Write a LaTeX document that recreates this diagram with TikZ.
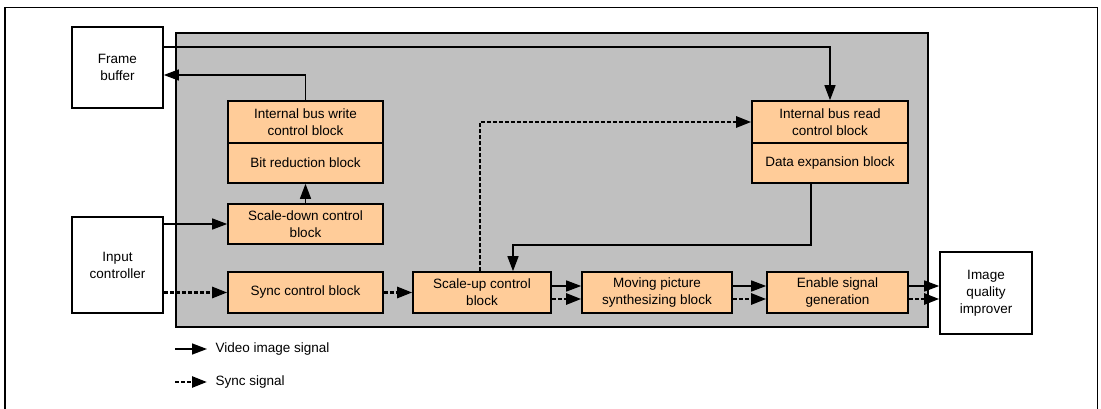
\documentclass[tikz,border=0pt]{standalone}
\usepackage{fontspec}
\setmainfont{Liberation Sans}
\usetikzlibrary{arrows.meta}
\definecolor{peach}{HTML}{FFCC99}
\definecolor{panel}{HTML}{C0C0C0}

\begin{document}
\begin{tikzpicture}[x=1pt,y=-1pt,
  txt/.style={font=\fontsize{13.5}{17}\selectfont},
  blk/.style={txt,draw,line width=1.6pt,fill=peach,align=center,inner sep=1pt},
  ext/.style={blk,fill=white},
  vid/.style={line width=1.4pt,-{Triangle[length=15pt,width=11pt]}},
  syn/.style={vid,line width=2.6pt,dash pattern=on 4pt off 2pt}]
  \useasboundingbox (0,0) rectangle (1101,409);
  \draw[line width=1.6pt] (5,409) -- (5,7.5) -- (1097.5,7.5) -- (1097.5,409);
  \draw[line width=1.6pt,fill=panel] (176,33) rectangle (928,327);

  \node[ext,minimum width=91pt,minimum height=81pt] (frame) at (117.5,67.5) {Frame\\buffer};
  \node[ext,minimum width=91pt,minimum height=96pt] (input) at (117.5,265) {Input\\controller};
  \node[ext,minimum width=92pt,minimum height=82pt] (iqi) at (986,293) {Image\\quality\\improver};

  \node[blk,minimum width=155pt,minimum height=42pt] (wr) at (305.5,122) {Internal bus write\\control block};
  \node[blk,minimum width=155pt,minimum height=40pt] (bitred) at (305.5,163) {Bit reduction block};
  \node[blk,minimum width=155pt,minimum height=40pt] (scdown) at (305.5,224) {Scale-down control\\block};
  \node[blk,minimum width=155pt,minimum height=41pt] (sync) at (305.5,292.5) {Sync control block};
  \node[blk,minimum width=138pt,minimum height=41pt] (scup) at (482,292.5) {Scale-up control\\block};
  \node[blk,minimum width=150pt,minimum height=41pt] (mov) at (657,292.5) {Moving picture\\synthesizing block};
  \node[blk,minimum width=141pt,minimum height=41pt] (ena) at (837.5,292.5) {Enable signal\\generation};
  \node[blk,minimum width=156pt,minimum height=42pt] (rd) at (830,122) {Internal bus read\\control block};
  \node[blk,minimum width=156pt,minimum height=40pt] (dexp) at (830,163) {Data expansion block};

  \draw[vid] ([yshift=20.5pt]frame.east) -| (rd.north);
  \draw[vid] (wr.north) |- ([yshift=-7.5pt]frame.east);
  \draw[vid] (scdown) -- (bitred);
  \draw[vid] ([yshift=41pt]input.east) -- ([yshift=41pt]input.east -| scdown.west);
  \draw[syn] ([yshift=-27.5pt]input.east) -- ([yshift=-27.5pt]input.east -| sync.west);
  \draw[syn] (sync) -- (scup);
  \draw[syn] ([xshift=-2pt]scup.north) |- (rd.west);
  \draw[vid] ([xshift=-19pt]dexp.south) -- ++(0,61) -| ([xshift=31pt]scup.north);
  \draw[vid] ([yshift=6.5pt]scup.east) -- ([yshift=6.5pt]mov.west);
  \draw[syn] ([yshift=-6.5pt]scup.east) -- ([yshift=-6.5pt]mov.west);
  \draw[vid] ([yshift=6.5pt]mov.east) -- ([yshift=6.5pt]ena.west);
  \draw[syn] ([yshift=-6.5pt]mov.east) -- ([yshift=-6.5pt]ena.west);
  \draw[vid] ([yshift=6.5pt]ena.east) -- ([yshift=6.5pt]ena.east -| iqi.west);
  \draw[syn] ([yshift=-6.5pt]ena.east) -- ([yshift=-6.5pt]ena.east -| iqi.west);

  \node[txt,anchor=west] (lgvid) at (212,349) {Video image signal};
  \node[txt,anchor=west] (lgsyn) at (212,382) {Sync signal};
  \draw[vid] ([xshift=-37pt]lgvid.west) -- ([xshift=-5pt]lgvid.west);
  \draw[syn] ([xshift=-37pt]lgsyn.west) -- ([xshift=-5pt]lgsyn.west);
\end{tikzpicture}
\end{document}
